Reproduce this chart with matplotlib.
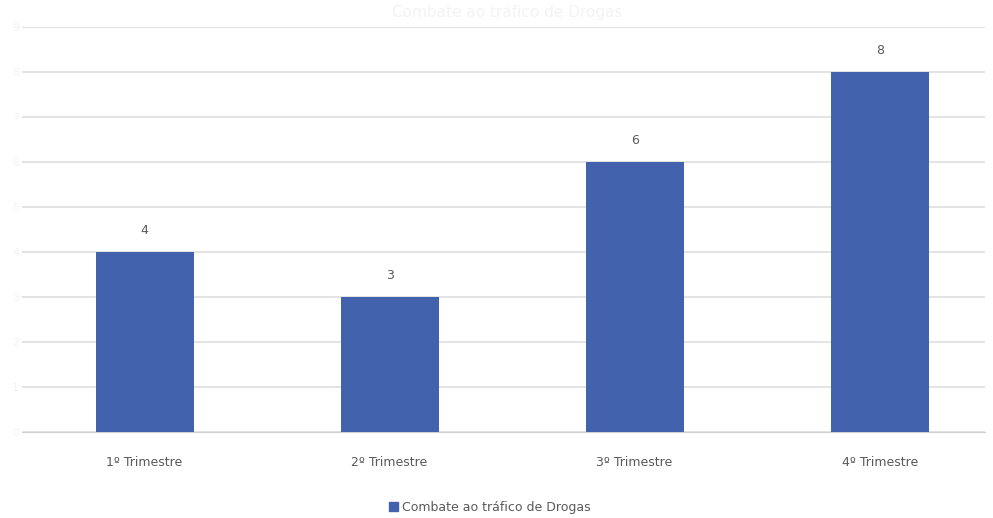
import matplotlib
matplotlib.use("Agg")
import matplotlib.pyplot as plt
from matplotlib.patches import Patch

categories = ["1º Trimestre", "2º Trimestre", "3º Trimestre", "4º Trimestre"]
values = [4, 3, 6, 8]
series_name = "Combate ao tráfico de Drogas"
y_ticks = list(range(0, 10))

bar_color = "#4262ad"
text_color = "#595959"

fig = plt.figure(figsize=(9.93, 5.18), dpi=100)
ax = fig.add_axes([22 / 993, 1 - 432 / 518, (985 - 22) / 993, (432 - 27) / 518])

x = range(len(categories))
bars = ax.bar(x, values, width=0.4, color=bar_color, zorder=3)

for xi, v in zip(x, values):
    ax.annotate(str(v), (xi, v), xytext=(0, 11), textcoords="offset points",
                ha="center", va="bottom", fontsize=9, color=text_color)

ax.set_xlim(-0.5, 3.43)
ax.set_ylim(0, 9)
ax.set_yticks(y_ticks)
ax.set_yticklabels([str(t) for t in y_ticks], color="#f2f2f2", fontsize=8)
ax.tick_params(axis="y", length=0, pad=2)
ax.set_xticks(list(x))
ax.set_xticklabels(categories, fontsize=9, color=text_color)
ax.tick_params(axis="x", length=0, pad=17)

ax.grid(axis="y", color="#dedede", linewidth=1.2, zorder=0)
for s in ["top", "right", "left"]:
    ax.spines[s].set_visible(False)
ax.spines["bottom"].set_color("#d0d0d0")

fig.text(507 / 993, 1 - 12 / 518, series_name, ha="center", va="center",
         fontsize=11, color="#f3f3f3")

handle = Patch(facecolor=bar_color, edgecolor=bar_color)
fig.legend([handle], [series_name], loc="center", bbox_to_anchor=(490 / 993, 1 - 507 / 518),
           frameon=False, fontsize=9, labelcolor=text_color,
           handlelength=0.7, handleheight=0.7, handletextpad=0.3)

fig.savefig("out.png", dpi=100, facecolor="white")
